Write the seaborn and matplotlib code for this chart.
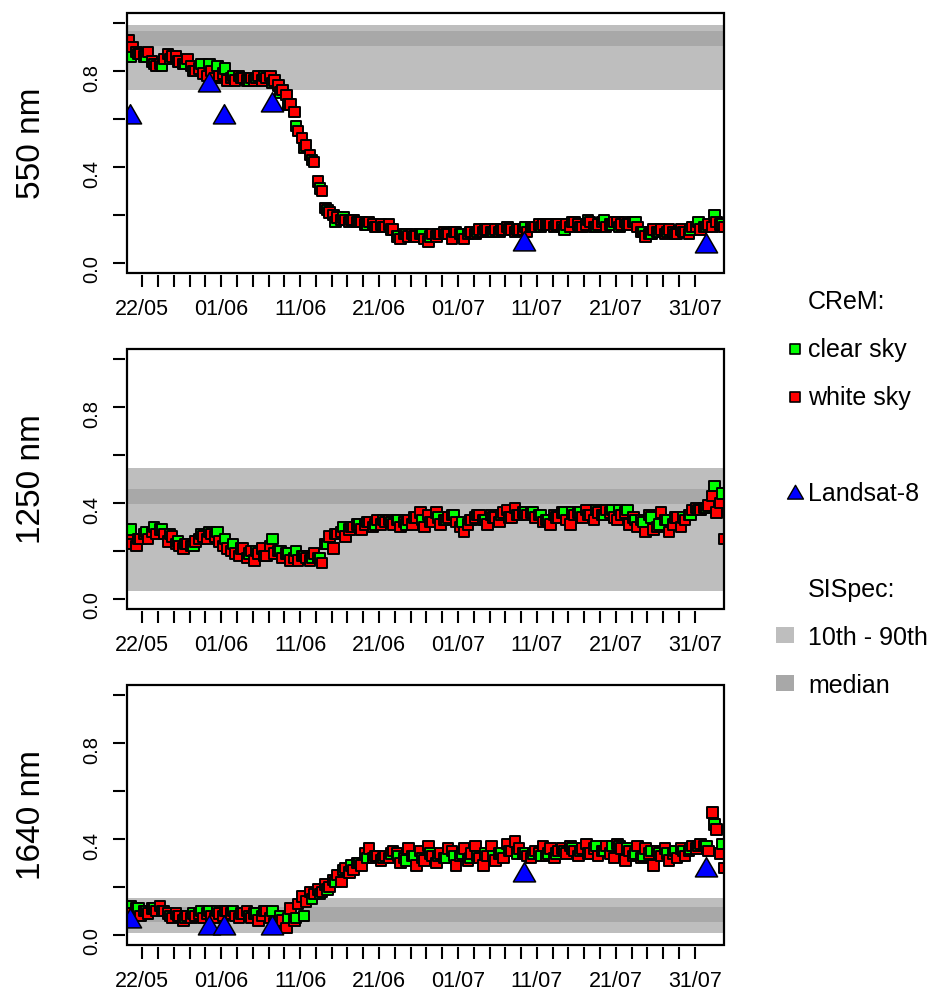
import numpy as np
import pandas as pd
import matplotlib
matplotlib.use("Agg")
import matplotlib.pyplot as plt
from matplotlib.patches import Rectangle
import seaborn as sns

# time stamps of the series
white_time = pd.date_range("2015-05-20 06:00", periods=152, freq="12h")
clear_time = pd.date_range("2015-05-20 12:00", periods=76, freq="D")
landsat_time = pd.to_datetime(["2015-05-20 10:00", "2015-05-30 10:00", "2015-06-01 10:00",
                               "2015-06-07 10:00", "2015-07-09 10:00", "2015-08-01 10:00"])

# 550 nm
white_550 = [
    0.93, 0.90, 0.88, 0.87, 0.86, 0.88, 0.84, 0.82, 0.83, 0.85,
    0.87, 0.86, 0.86, 0.84, 0.83, 0.85, 0.82, 0.80, 0.81, 0.79,
    0.78, 0.80, 0.77, 0.78, 0.79, 0.76, 0.77, 0.76, 0.78, 0.77,
    0.76, 0.77, 0.76, 0.78, 0.76, 0.77, 0.78, 0.76, 0.74, 0.72,
    0.70, 0.66, 0.63, 0.55, 0.52, 0.49, 0.45, 0.42, 0.34, 0.30,
    0.23, 0.21, 0.20, 0.19, 0.18, 0.18, 0.17, 0.18, 0.17, 0.17,
    0.16, 0.17, 0.16, 0.15, 0.16, 0.15, 0.16, 0.14, 0.11, 0.10,
    0.12, 0.11, 0.12, 0.11, 0.12, 0.10, 0.09, 0.12, 0.11, 0.12,
    0.13, 0.12, 0.10, 0.13, 0.12, 0.10, 0.12, 0.13, 0.12, 0.14,
    0.13, 0.14, 0.13, 0.14, 0.13, 0.14, 0.15, 0.14, 0.13, 0.14,
    0.14, 0.13, 0.15, 0.15, 0.16, 0.16, 0.16, 0.16, 0.15, 0.16,
    0.15, 0.16, 0.15, 0.17, 0.16, 0.15, 0.16, 0.17, 0.15, 0.16,
    0.17, 0.15, 0.16, 0.17, 0.17, 0.16, 0.17, 0.16, 0.17, 0.15,
    0.13, 0.11, 0.12, 0.14, 0.13, 0.14, 0.12, 0.14, 0.13, 0.12,
    0.14, 0.13, 0.12, 0.15, 0.15, 0.14, 0.15, 0.16, 0.15, 0.17,
    0.16, 0.15,
]
clear_550 = [
    0.86, 0.87, 0.86, 0.83, 0.82, 0.85, 0.84, 0.83, 0.80, 0.83,
    0.83, 0.82, 0.81, 0.78, 0.77, 0.76, 0.77, 0.78, 0.75, 0.71,
    0.66, 0.57, 0.48, 0.43, 0.31, 0.22, 0.17, 0.19, 0.18, 0.17,
    0.16, 0.15, 0.15, 0.14, 0.11, 0.12, 0.11, 0.12, 0.11, 0.12,
    0.12, 0.13, 0.12, 0.13, 0.13, 0.14, 0.13, 0.14, 0.14, 0.14,
    0.15, 0.15, 0.15, 0.16, 0.16, 0.14, 0.17, 0.15, 0.18, 0.15,
    0.18, 0.16, 0.15, 0.16, 0.17, 0.13, 0.12, 0.13, 0.13, 0.12,
    0.13, 0.14, 0.17, 0.15, 0.20, 0.16,
]
landsat_550 = [0.61, 0.74, 0.61, 0.66, 0.08, 0.07]

# 1250 nm
white_1250 = [
    0.26, 0.23, 0.22, 0.25, 0.27, 0.25, 0.28, 0.27, 0.29, 0.27,
    0.24, 0.26, 0.23, 0.22, 0.21, 0.23, 0.22, 0.24, 0.25, 0.26,
    0.25, 0.27, 0.26, 0.24, 0.22, 0.21, 0.20, 0.19, 0.18, 0.21,
    0.17, 0.20, 0.16, 0.19, 0.21, 0.18, 0.22, 0.19, 0.20, 0.17,
    0.19, 0.16, 0.17, 0.16, 0.18, 0.17, 0.16, 0.19, 0.17, 0.15,
    0.23, 0.26, 0.21, 0.27, 0.28, 0.26, 0.29, 0.30, 0.31, 0.29,
    0.31, 0.32, 0.30, 0.33, 0.31, 0.32, 0.33, 0.31, 0.33, 0.30,
    0.32, 0.33, 0.31, 0.34, 0.36, 0.30, 0.35, 0.32, 0.36, 0.31,
    0.33, 0.34, 0.35, 0.32, 0.30, 0.28, 0.31, 0.33, 0.34, 0.35,
    0.33, 0.31, 0.35, 0.34, 0.32, 0.36, 0.37, 0.34, 0.38, 0.35,
    0.36, 0.35, 0.36, 0.34, 0.35, 0.32, 0.33, 0.31, 0.35, 0.34,
    0.36, 0.33, 0.31, 0.35, 0.36, 0.34, 0.37, 0.35, 0.33, 0.36,
    0.35, 0.37, 0.36, 0.34, 0.33, 0.35, 0.36, 0.31, 0.34, 0.30,
    0.33, 0.28, 0.35, 0.29, 0.30, 0.36, 0.33, 0.28, 0.31, 0.34,
    0.30, 0.33, 0.35, 0.37, 0.38, 0.37, 0.38, 0.39, 0.43, 0.36,
    0.40, 0.25,
]
clear_1250 = [
    0.29, 0.25, 0.28, 0.30, 0.29, 0.27, 0.24, 0.23, 0.22, 0.27,
    0.28, 0.28, 0.25, 0.23, 0.21, 0.19, 0.20, 0.18, 0.25, 0.20,
    0.19, 0.20, 0.18, 0.17, 0.17, 0.23, 0.27, 0.30, 0.30, 0.31,
    0.32, 0.31, 0.33, 0.32, 0.33, 0.31, 0.34, 0.33, 0.32, 0.34,
    0.33, 0.35, 0.32, 0.33, 0.35, 0.33, 0.34, 0.35, 0.34, 0.35,
    0.36, 0.36, 0.35, 0.33, 0.34, 0.36, 0.36, 0.36, 0.35, 0.37,
    0.35, 0.37, 0.37, 0.37, 0.33, 0.32, 0.34, 0.31, 0.33, 0.34,
    0.34, 0.35, 0.37, 0.38, 0.47, 0.44,
]

# 1640 nm
white_1640 = [
    0.10, 0.09, 0.11, 0.08, 0.10, 0.09, 0.11, 0.10, 0.12, 0.10,
    0.09, 0.07, 0.09, 0.08, 0.06, 0.08, 0.07, 0.08, 0.09, 0.07,
    0.09, 0.08, 0.07, 0.09, 0.08, 0.10, 0.09, 0.08, 0.07, 0.09,
    0.10, 0.07, 0.09, 0.06, 0.08, 0.10, 0.07, 0.05, 0.04, 0.06,
    0.03, 0.11, 0.06, 0.13, 0.16, 0.14, 0.18, 0.17, 0.19, 0.18,
    0.21, 0.20, 0.23, 0.25, 0.22, 0.28, 0.26, 0.27, 0.30, 0.29,
    0.34, 0.36, 0.32, 0.33, 0.31, 0.33, 0.32, 0.35, 0.34, 0.30,
    0.32, 0.36, 0.33, 0.29, 0.35, 0.31, 0.37, 0.33, 0.30, 0.34,
    0.32, 0.36, 0.35, 0.29, 0.33, 0.36, 0.31, 0.34, 0.37, 0.32,
    0.29, 0.33, 0.37, 0.31, 0.34, 0.32, 0.38, 0.35, 0.39, 0.36,
    0.34, 0.33, 0.32, 0.35, 0.34, 0.37, 0.33, 0.36, 0.32, 0.35,
    0.36, 0.34, 0.37, 0.35, 0.33, 0.36, 0.38, 0.34, 0.36, 0.33,
    0.35, 0.37, 0.34, 0.32, 0.38, 0.36, 0.31, 0.35, 0.33, 0.37,
    0.32, 0.36, 0.34, 0.29, 0.35, 0.33, 0.36, 0.31, 0.34, 0.32,
    0.36, 0.33, 0.35, 0.37, 0.36, 0.38, 0.37, 0.35, 0.51, 0.44,
    0.34, 0.28,
]
clear_1640 = [
    0.12, 0.11, 0.10, 0.11, 0.10, 0.08, 0.08, 0.07, 0.09, 0.10,
    0.10, 0.10, 0.10, 0.10, 0.09, 0.08, 0.09, 0.10, 0.10, 0.08,
    0.07, 0.07, 0.08, 0.15, 0.17, 0.19, 0.22, 0.27, 0.29, 0.30,
    0.32, 0.33, 0.32, 0.34, 0.33, 0.31, 0.33, 0.32, 0.34, 0.33,
    0.32, 0.33, 0.34, 0.32, 0.33, 0.34, 0.33, 0.34, 0.35, 0.34,
    0.34, 0.34, 0.33, 0.34, 0.34, 0.35, 0.36, 0.35, 0.34, 0.37,
    0.35, 0.37, 0.37, 0.36, 0.34, 0.33, 0.35, 0.34, 0.34, 0.35,
    0.35, 0.36, 0.37, 0.37, 0.46, 0.38,
]
landsat_1640 = [0.06, 0.03, 0.03, 0.03, 0.25, 0.27]

# SISpec: 10th-90th percentile range and median band
band_names = ["550 nm", "1250 nm", "1640 nm"]
p10 = [0.72, 0.035, 0.008]
p90 = [0.99, 0.547, 0.155]
med_lo = [0.906, 0.395, 0.056]
med_hi = [0.966, 0.459, 0.115]

white_all = [white_550, white_1250, white_1640]
clear_all = [clear_550, clear_1250, clear_1640]
landsat_all = [landsat_550, None, landsat_1640]

COL_CLEAR = "#00FF00"
COL_WHITE = "#FF0000"
COL_LS = "#0000FF"
COL_BAND = "#BEBEBE"
COL_MED = "#A8A8A8"

sns.set_theme(style="white")
plt.rcParams["font.family"] = ["Liberation Sans", "DejaVu Sans"]
plt.rcParams["text.color"] = "black"
plt.rcParams["axes.labelcolor"] = "black"
plt.rcParams["xtick.color"] = "black"
plt.rcParams["ytick.color"] = "black"

fig = plt.figure(figsize=(9.4, 9.94), dpi=100)

W, H = 940, 994
left, width = 127 / W, 597 / W
bottoms = [1 - 272.6 / H, 1 - 608.6 / H, 1 - 944.6 / H]
height = 259.2 / H

xticks = pd.date_range("2015-05-22", "2015-07-31", freq="2D")
xlabels = [d.strftime("%d/%m") if i % 5 == 0 else "" for i, d in enumerate(xticks)]

for i in range(3):
    ax = fig.add_axes([left, bottoms[i], width, height])
    ax.axhspan(p10[i], p90[i], color=COL_BAND, lw=0, zorder=1)
    ax.axhspan(med_lo[i], med_hi[i], color=COL_MED, lw=0, zorder=1.5)

    df = pd.concat([
        pd.DataFrame({"time": white_time, "value": white_all[i], "sky": "white sky"}),
        pd.DataFrame({"time": clear_time, "value": clear_all[i], "sky": "clear sky"}),
    ]).sort_values("time", kind="stable")
    sns.scatterplot(data=df, x="time", y="value", hue="sky",
                    palette={"white sky": COL_WHITE, "clear sky": COL_CLEAR},
                    marker="s", s=58, edgecolor="black", linewidth=1.4,
                    legend=False, ax=ax, zorder=3)
    if landsat_all[i] is not None:
        sns.scatterplot(x=landsat_time, y=landsat_all[i], marker=(3, 0, 0), s=340,
                        color=COL_LS, edgecolor="black", linewidth=1.1,
                        legend=False, ax=ax, zorder=4)

    ax.set_xlim(pd.Timestamp("2015-05-20 01:30"), pd.Timestamp("2015-08-03 17:00"))
    ax.set_ylim(-0.04, 1.04)
    ax.set_xlabel("")
    ax.set_ylabel("")

    ax.set_xticks(xticks)
    ax.set_xticklabels(xlabels)
    ax.set_yticks([0, 0.2, 0.4, 0.6, 0.8, 1.0])
    ax.set_yticklabels(["0.0", "", "0.4", "", "0.8", ""])
    ax.tick_params(axis="x", direction="out", length=8.3, width=1.5, pad=9,
                   labelsize=15.5, colors="black", bottom=True)
    ax.tick_params(axis="y", direction="out", length=8.6, width=1.5, pad=8.5,
                   labelsize=14.5, colors="black", left=True, labelrotation=90)
    for lab in ax.get_yticklabels():
        lab.set_va("center")

    for side in ["bottom", "left"]:
        ax.spines[side].set_position(("outward", 1.5))
    for side in ax.spines:
        ax.spines[side].set_color("none")
    ax.add_patch(Rectangle((0, 0), 1, 1, transform=ax.transAxes, fill=False,
                           edgecolor="black", lw=1.6, clip_on=False, zorder=6))

    fig.text(31 / W, bottoms[i] + height / 2, band_names[i], rotation=90,
             ha="center", va="center", fontsize=24, color="black")

# legend drawn in pixel coordinates on an overlay axes
lax = fig.add_axes([0, 0, 1, 1], zorder=-1)
lax.set_xlim(0, W)
lax.set_ylim(H, 0)
lax.axis("off")

tx = 808
fs = 18
lax.text(tx, 309, "CReM:", fontsize=fs, va="baseline", ha="left")
lax.scatter([795], [348.5], marker="s", s=50, color=COL_CLEAR, edgecolor="black", lw=1.2)
lax.text(tx, 357, "clear sky", fontsize=fs, va="baseline", ha="left")
lax.scatter([795], [396.5], marker="s", s=50, color=COL_WHITE, edgecolor="black", lw=1.2)
lax.text(tx, 405, "white sky", fontsize=fs, va="baseline", ha="left")
lax.scatter([795], [494], marker=(3, 0, 0), s=175, color=COL_LS, edgecolor="black", lw=1.0)
lax.text(tx, 501, "Landsat-8", fontsize=fs, va="baseline", ha="left")
lax.text(tx, 597, "SISpec:", fontsize=fs, va="baseline", ha="left")
lax.add_patch(Rectangle((776, 627), 18, 16, color=COL_BAND, lw=0))
lax.text(tx, 645, "10th - 90th", fontsize=fs, va="baseline", ha="left")
lax.add_patch(Rectangle((776, 675), 18, 16, color=COL_MED, lw=0))
lax.text(tx, 693, "median", fontsize=fs, va="baseline", ha="left")

fig.savefig("out.png", dpi=100)
